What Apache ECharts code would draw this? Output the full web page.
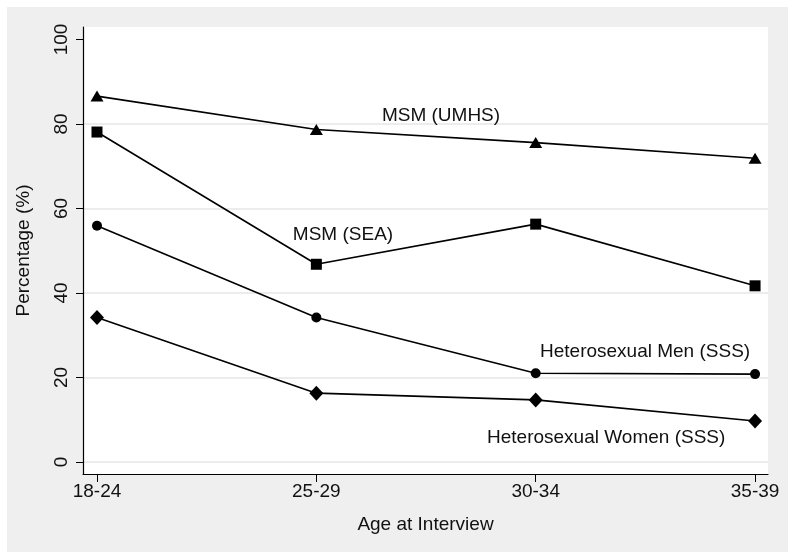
<!DOCTYPE html>
<html>
<head>
<meta charset="utf-8">
<script src="https://cdn.jsdelivr.net/npm/echarts@6/dist/echarts.min.js"></script>
<style>
html,body{margin:0;padding:0;background:#fff;}
#c{width:795px;height:559px;}
</style>
</head>
<body>
<div id="c"></div>
<script>
const categories = ['18-24', '25-29', '30-34', '35-39'];
const msmUMHS = [86.6, 78.7, 75.6, 71.9];
const msmSEA = [78.1, 46.8, 56.3, 41.7];
const hetMen = [55.9, 34.2, 21.0, 20.8];
const hetWomen = [34.2, 16.3, 14.7, 9.7];
const yTicks = [0, 20, 40, 60, 80, 100];
const yGrid = [0, 20, 40, 60, 80];
const xTicks = [0, 1, 2, 3];

const FONT = 'Liberation Sans, Arial, sans-serif';
const toPairs = arr => arr.map((v, i) => [i, v]);

function lineSeries(name, data, symbol, size) {
  return {
    name, type: 'line', data: toPairs(data),
    symbol, symbolSize: size, showSymbol: true,
    lineStyle: { color: '#000', width: 1.6 },
    itemStyle: { color: '#000' },
    z: 5
  };
}

const chart = echarts.init(document.getElementById('c'), null, { renderer: 'canvas' });
chart.setOption({
  animation: false,
  backgroundColor: '#fff',
  graphic: [
    { type: 'rect', shape: { x: 7, y: 7, width: 781, height: 545 }, style: { fill: '#efefef' }, z: -10, silent: true },
    { type: 'rect', shape: { x: 83, y: 27, width: 685, height: 447 }, style: { fill: '#fff' }, z: -9, silent: true },
    { type: 'text', x: 441, y: 116, style: { text: 'MSM (UMHS)', font: '19px ' + FONT, fill: '#111', align: 'center', verticalAlign: 'middle' }, z: 10 },
    { type: 'text', x: 343, y: 235, style: { text: 'MSM (SEA)', font: '19px ' + FONT, fill: '#111', align: 'center', verticalAlign: 'middle' }, z: 10 },
    { type: 'text', x: 540, y: 352, style: { text: 'Heterosexual Men (SSS)', font: '19px ' + FONT, fill: '#111', align: 'left', verticalAlign: 'middle' }, z: 10 },
    { type: 'text', x: 487, y: 438, style: { text: 'Heterosexual Women (SSS)', font: '19px ' + FONT, fill: '#111', align: 'left', verticalAlign: 'middle' }, z: 10 }
  ],
  grid: { left: 83, right: 27, top: 27, bottom: 85, containLabel: false },
  xAxis: {
    type: 'value', min: -0.0638, max: 3.059,
    name: 'Age at Interview', nameLocation: 'middle', nameGap: 41,
    nameTextStyle: { fontFamily: FONT, fontSize: 19, color: '#111' },
    axisLine: { show: true, onZero: false, lineStyle: { color: '#000', width: 1.2 } },
    axisTick: { show: true, length: 8, customValues: xTicks, lineStyle: { color: '#000' } },
    axisLabel: { customValues: xTicks, margin: 8, fontFamily: FONT, fontSize: 19, color: '#111',
      formatter: v => categories[Math.round(v)] },
    splitLine: { show: false }
  },
  yAxis: [{
    type: 'value', min: -2.84, max: 102.96,
    name: 'Percentage (%)', nameLocation: 'middle', nameGap: 50,
    nameTextStyle: { fontFamily: FONT, fontSize: 19, color: '#111' },
    axisLine: { show: true, onZero: false, lineStyle: { color: '#000', width: 1.2 } },
    axisTick: { show: true, length: 7, customValues: yTicks, lineStyle: { color: '#000' } },
    axisLabel: { customValues: yTicks, rotate: 90, margin: 12, fontFamily: FONT, fontSize: 19, color: '#111' },
    splitLine: { show: false }
  }, {
    type: 'value', min: -2.84, max: 102.96, position: 'left',
    axisLine: { show: false }, axisLabel: { show: false },
    axisTick: { show: false, customValues: yGrid },
    splitLine: { show: true, lineStyle: { color: '#e6e6e6', width: 1.5 } }
  }],
  series: [
    lineSeries('MSM (UMHS)', msmUMHS, 'triangle', [13, 11]),
    lineSeries('MSM (SEA)', msmSEA, 'rect', 11),
    lineSeries('Heterosexual Men (SSS)', hetMen, 'circle', 10),
    lineSeries('Heterosexual Women (SSS)', hetWomen, 'diamond', [14, 15])
  ]
});
</script>
</body>
</html>
